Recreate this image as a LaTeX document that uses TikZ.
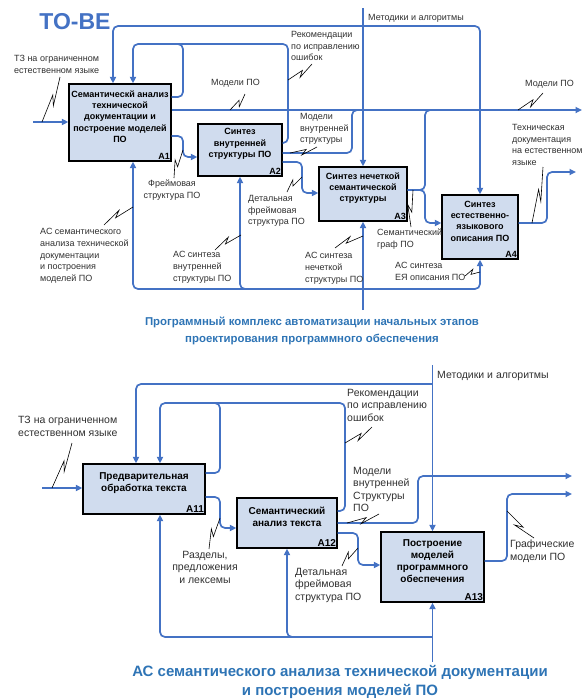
\documentclass[tikz,border=0pt]{standalone}
\usepackage{fontspec}
\setmainfont{Liberation Sans}
\usepackage{tikz}
\usetikzlibrary{positioning,calc,arrows.meta}
\definecolor{idefline}{HTML}{4472C4}
\definecolor{idefbox}{HTML}{D0DCEE}
\definecolor{ideftitle}{HTML}{2E74B5}
\definecolor{ideftext}{HTML}{303030}

\begin{document}
\begin{tikzpicture}[x=1pt, y=-1pt,
  >={Triangle[length=6.5pt,width=6pt]},
  proc/.style={draw=black, line width=1.3pt, fill=idefbox, inner sep=0pt},
  ptxt/.style={align=center, inner sep=0pt, font=\fontsize{9}{11.3}\selectfont\bfseries},
  num/.style={anchor=south east, inner sep=1.5pt, font=\fontsize{9}{9}\selectfont\bfseries},
  flow/.style={draw=idefline, line width=1.7pt, rounded corners=5pt},
  lead/.style={draw=black, line width=0.6pt,
    to path={-- ($(\tikztostart)!0.6!(\tikztotarget)$)
      -- ($(\tikztostart)!0.4!(\tikztotarget)!4.5pt!-90:(\tikztotarget)$)
      -- (\tikztotarget)}},
  lbl/.style={anchor=north west, align=left, inner sep=0pt, text=ideftext,
    font=\fontsize{9}{11.8}\selectfont},
  ttl/.style={align=center, inner sep=0pt, text=ideftitle},
]
\useasboundingbox (0,0) rectangle (587,699);

% ---------- TO-BE: program complex ----------
\node[ttl, text=idefline, font=\fontsize{23}{23}\selectfont\bfseries] (tobe) at (75,22) {TO-BE};
\foreach \nm/\cx/\cy/\w/\h/\txt in {%
  A1/120/122.5/102/77/{Семантическй анализ\\технической\\документации и\\построение моделей\\ПО},
  A2/240/150/84/52/{Синтез\\внутренней\\структуры ПО},
  A3/363/194/88/54/{Синтез нечеткой\\семантической\\структуры},
  A4/480/227/76/64/{Синтез\\естественно-\\языкового\\описания ПО}%
} {
  \node[proc, minimum width=\w pt, minimum height=\h pt] (\nm) at (\cx,\cy) {};
  \node[ptxt] (\nm-t) at ([yshift=6pt]\nm.center) {\txt};
  \node[num] (\nm-id) at (\nm.south east) {\nm};
}
\coordinate (in1) at (33,122);
\coordinate (ctl1) at (363,8);
\coordinate (mec1) at (363,310);
\coordinate (out1) at (582,110);
\coordinate (out2) at (576,172);
% input, controls
\draw[flow,->] (in1) -- (A1.west |- in1);
\draw[flow,->] (ctl1) -- (A3.north);
\draw[flow,<->] (A1.north -| 113,0) |- (A4.north |- 0,26) -- (A4.north);
\draw[flow,->] (A2.east |- 0,143) -| (288,44) -| (A1.north -| 133,0);
\draw[flow] (A1.east |- 0,97) -| (183,44) -- (176,44);
% outputs
\draw[flow,->] (A1.east |- 0,110) -- (out1);
\draw[flow] (A2.east |- 0,153) -| (352,110) -- (360,110);
\draw[flow] (A3.east |- 0,190) -| (425,110) -- (433,110);
\draw[flow,->] (A3.east |- 0,190) -| (425,223) -- (A4.west |- 0,223);
\draw[flow,->] (A1.east |- 0,136) -| (183,157) -- (A2.west |- 0,157);
\draw[flow,->] (A2.east |- 0,162) -| (302,193) -- (A3.west |- 0,193);
\draw[flow,->] (A4.east |- 0,223) -| (547,172) -- (out2);
% mechanisms
\draw[flow,->] (mec1) -- (A3.south);
\draw[flow,<->] (A1.south -| 133,0) |- (A4.south |- 0,289) -- (A4.south);
\draw[flow,<-] (A2.south) |- (250,289);
% labels
\node[lbl] (tz1) at (14,55) {ТЗ на ограниченном\\естественном языке};
\node[lbl] (rec1) at (291,31) {Рекомендации\\по исправлению\\ошибок};
\node[lbl] (mod1) at (211,79) {Модели ПО};
\node[lbl] (mod2) at (525,80) {Модели ПО};
\node[lbl] (met1) at (368,14) {Методики и алгоритмы};
\node[lbl] (mvs1) at (300,113) {Модели\\внутренней\\структуры};
\node[lbl] (tdoc) at (512,124) {Техническая\\документация\\на естественном\\языке};
\node[lbl, anchor=north, align=center] (frm1) at (172,180) {Фреймовая\\структура ПО};
\node[lbl] (dfs1) at (248,195) {Детальная\\фреймовая\\структура ПО};
\node[lbl] (sgr) at (377,229) {Семантический\\граф ПО};
\node[lbl] (as1) at (40,228) {АС семантического\\анализа технической\\документации\\и построения\\моделей ПО};
\node[lbl] (as2) at (173,251) {АС синтеза\\внутренней\\структуры ПО};
\node[lbl] (as3) at (305,252) {АС синтеза\\нечеткой\\структуры ПО};
\node[lbl] (as4) at (395,262) {АС синтеза\\ЕЯ описания ПО};
\foreach \xa/\ya/\xb/\yb in {42/122/60/77, 288/80/312/64, 230/110/245/94,
  518/110/543/93, 290/153/317/147, 183/150/174/178, 302/177/287/192,
  413/190/411/227, 133/207/104/225, 241/235/215/250, 363/236/335/248,
  480/272/465/276, 532/223/543/167}
  \draw[lead] (\xa,\ya) to (\xb,\yb);
\node[ttl, font=\fontsize{11.4}{17}\selectfont\bfseries] (tt1) at (312,331)
  {Программный комплекс автоматизации начальных этапов\\проектирования программного обеспечения};

% ---------- A1 decomposition ----------
\begin{scope}[ptxt/.append style={font=\fontsize{10}{11.8}\selectfont\bfseries},
  num/.append style={font=\fontsize{10}{10}\selectfont\bfseries},
  lbl/.append style={font=\fontsize{10.5}{12.5}\selectfont}]
\foreach \nm/\cx/\cy/\w/\h/\txt in {%
  A11/144/489/122/50/{Предварительная\\обработка текста},
  A12/287/523/100/50/{Семантический\\анализ текста},
  A13/432.5/567/103/70/{Построение\\моделей\\программного\\обеспечения}%
} {
  \node[proc, minimum width=\w pt, minimum height=\h pt] (\nm) at (\cx,\cy) {};
  \node[ptxt] (\nm-t) at ([yshift=6pt]\nm.center) {\txt};
  \node[num] (\nm-id) at (\nm.south east) {\nm};
}
\coordinate (in2) at (42,488);
\coordinate (ctl2) at (432.5,365);
\coordinate (mec2) at (432.5,662);
\coordinate (out3) at (572,476);
\coordinate (out4) at (572,494);
\draw[flow,->] (in2) -- (A11.west |- in2);
\draw[flow,->] (ctl2) -- (A13.north);
\draw[flow,->] (ctl2 |- 0,384) -| (A11.north -| 136,0);
\draw[flow,->] (A12.east |- 0,511) -| (345,403) -| (A11.north -| 160,0);
\draw[flow] (A11.east |- 0,473) -| (220,403) -- (212,403);
\draw[flow,->] (A11.east |- 0,497) -| (220,528) -- (A12.west |- 0,528);
\draw[flow,->] (A12.east |- 0,523) -| (418,476) -- (out3);
\draw[flow,->] (A12.east |- 0,533) -| (358,565) -- (A13.west |- 0,565);
\draw[flow,->] (A13.east |- 0,561) -| (507,494) -- (out4);
\draw[flow,->] (mec2) -- (A13.south);
\draw[flow,<-] (A11.south -| 160,0) |- (mec2 |- 0,637);
\draw[flow,<-] (A12.south) |- (295,637);
\node[lbl] (tz2) at (18,416) {ТЗ на ограниченном\\естественном языке};
\node[lbl] (met2) at (437,371) {Методики и алгоритмы};
\node[lbl] (rec2) at (347,389) {Рекомендации\\по исправлению\\ошибок};
\node[lbl] (mvs2) at (353,467) {Модели\\внутренней\\Структуры\\ПО};
\node[lbl, anchor=north, align=center] (razd) at (205,551) {Разделы,\\предложения\\и лексемы};
\node[lbl] (dfs2) at (295,568) {Детальная\\фреймовая\\структура ПО};
\node[lbl] (gmod) at (510,540) {Графические\\модели ПО};
\foreach \xa/\ya/\xb/\yb in {52/488/72/443, 345/443/372/427, 347/523/379/514,
  220/518/209/549, 358/548/342/566, 507/511/534/538}
  \draw[lead] (\xa,\ya) to (\xb,\yb);
\end{scope}
\node[ttl, font=\fontsize{15}{19}\selectfont\bfseries] (tt2) at (340,682)
  {АС семантического анализа технической документации\\и построения моделей ПО};
\end{tikzpicture}
\end{document}
